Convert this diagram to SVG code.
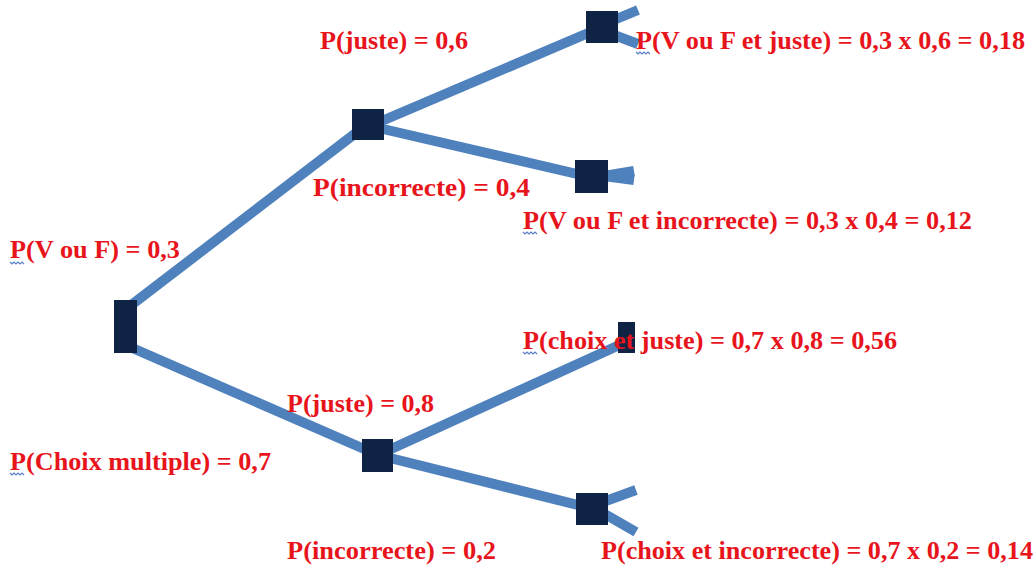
<svg xmlns="http://www.w3.org/2000/svg" width="1033" height="567" viewBox="0 0 1033 567">
<style>
.ln{stroke:#4f81bd;stroke-width:10;fill:none;stroke-linecap:butt}
.nd{fill:#0f2444}
.t{font-family:"Liberation Serif","Times New Roman",serif;font-weight:bold;font-size:26px;fill:#e8141c}
.sq{stroke:#5b7fc7;stroke-width:1.2;fill:none}
</style>
<rect width="1033" height="567" fill="#ffffff"/>
<g id="connectors">
<line class="ln" x1="130" y1="306" x2="365" y2="126"/>
<line class="ln" x1="130" y1="347" x2="378" y2="455"/>
<line class="ln" x1="370" y1="126" x2="600" y2="28"/>
<line class="ln" x1="370" y1="126" x2="590" y2="177"/>
<line class="ln" x1="378" y1="455" x2="626" y2="342"/>
<line class="ln" x1="378" y1="455" x2="590" y2="508"/>
<line class="ln" x1="614" y1="20" x2="638" y2="10"/>
<line class="ln" x1="614" y1="35" x2="638" y2="44"/>
<line class="ln" x1="604" y1="176" x2="634" y2="171"/>
<line class="ln" x1="604" y1="176" x2="634" y2="180"/>
<line class="ln" x1="603" y1="502" x2="636" y2="490"/>
<line class="ln" x1="603" y1="513" x2="636" y2="532"/>
</g>
<g id="root"><rect class="nd" x="114" y="300" width="23" height="53"/></g>
<g id="n-vf"><rect class="nd" x="352" y="109" width="32" height="31"/></g>
<g id="n-vf-juste"><rect class="nd" x="586" y="11" width="32" height="32"/></g>
<g id="n-vf-incorrecte"><rect class="nd" x="575" y="160" width="33" height="33"/></g>
<g id="n-cm"><rect class="nd" x="362" y="439" width="31" height="33"/></g>
<g id="n-cm-juste"><rect class="nd" x="618" y="322" width="17" height="31"/></g>
<g id="n-cm-incorrecte"><rect class="nd" x="576" y="493" width="32" height="32"/></g>
<g id="labels">
<text class="t" x="320" y="49" textLength="148" lengthAdjust="spacingAndGlyphs">P(juste) = 0,6</text>
<text class="t" x="636" y="49" textLength="389" lengthAdjust="spacingAndGlyphs">P(V ou F et juste) = 0,3 x 0,6 = 0,18</text>
<text class="t" x="313" y="196" textLength="217" lengthAdjust="spacingAndGlyphs">P(incorrecte) = 0,4</text>
<text class="t" x="523" y="229" textLength="449" lengthAdjust="spacingAndGlyphs">P(V ou F et incorrecte) = 0,3 x 0,4 = 0,12</text>
<text class="t" x="10" y="258" textLength="170" lengthAdjust="spacingAndGlyphs">P(V ou F) = 0,3</text>
<text class="t" x="523" y="349" textLength="374" lengthAdjust="spacingAndGlyphs">P(choix et juste) = 0,7 x 0,8 = 0,56</text>
<text class="t" x="287" y="412" textLength="147" lengthAdjust="spacingAndGlyphs">P(juste) = 0,8</text>
<text class="t" x="10" y="470" textLength="261" lengthAdjust="spacingAndGlyphs">P(Choix multiple) = 0,7</text>
<text class="t" x="287" y="559" textLength="209" lengthAdjust="spacingAndGlyphs">P(incorrecte) = 0,2</text>
<text class="t" x="601" y="559" textLength="432" lengthAdjust="spacingAndGlyphs">P(choix et incorrecte) = 0,7 x 0,2 = 0,14</text>
</g>
<g id="spellcheck">
<path class="sq" d="M636 52 l2 2 l2 -2 l2 2 l2 -2 l2 2 l2 -2 l2 2"/>
<path class="sq" d="M523 232 l2 2 l2 -2 l2 2 l2 -2 l2 2 l2 -2 l2 2"/>
<path class="sq" d="M10 262 l2 2 l2 -2 l2 2 l2 -2 l2 2 l2 -2 l2 2"/>
<path class="sq" d="M523 352 l2 2 l2 -2 l2 2 l2 -2 l2 2 l2 -2 l2 2"/>
<path class="sq" d="M10 473 l2 2 l2 -2 l2 2 l2 -2 l2 2 l2 -2 l2 2"/>
</g>
</svg>
